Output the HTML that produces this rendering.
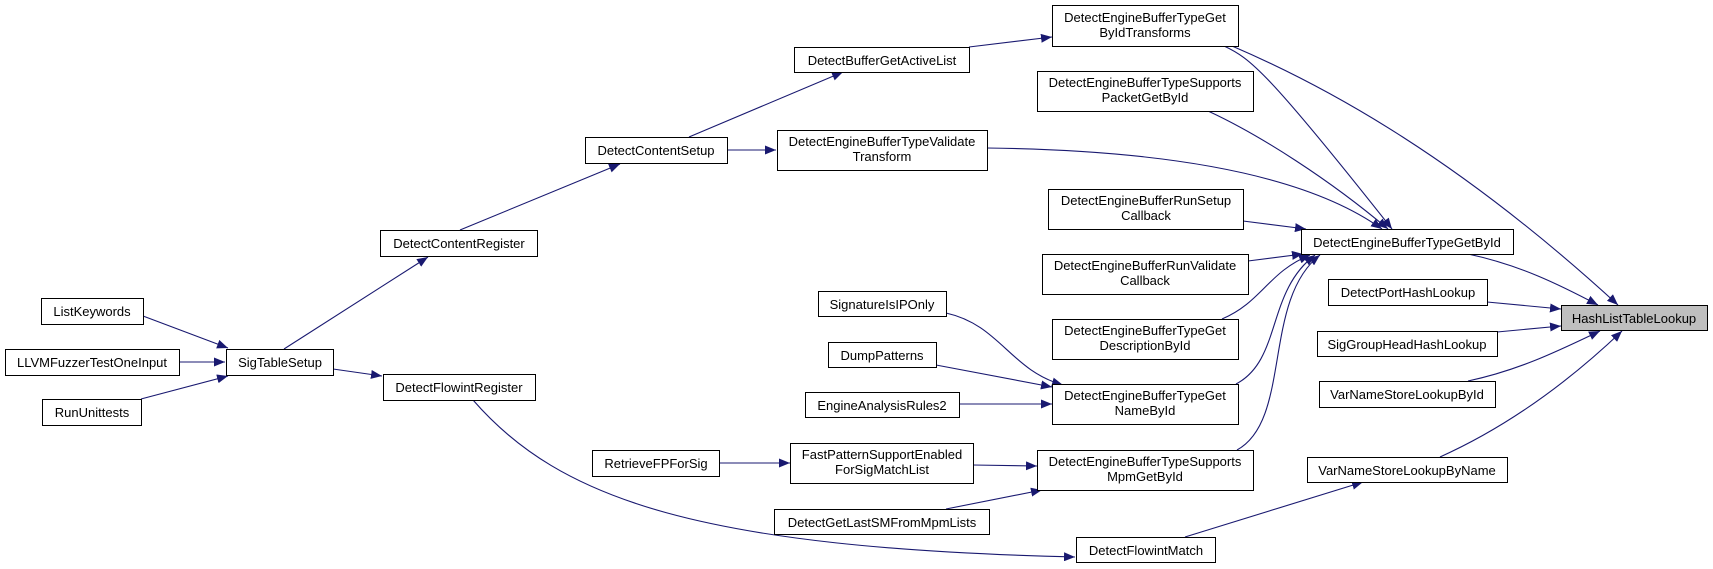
<!DOCTYPE html>
<html><head><meta charset="utf-8"><style>
html,body{margin:0;padding:0;background:#fff;}
svg{display:block;}
text{font-family:"Liberation Sans",Arial,sans-serif;font-size:13px;fill:#000;}
</style></head><body>
<svg width="1713" height="569" viewBox="0 0 1713 569" xmlns="http://www.w3.org/2000/svg">
<defs>
<marker id="a" markerUnits="userSpaceOnUse" markerWidth="12" markerHeight="9" refX="11" refY="4.5" orient="auto">
<path d="M0,0 L11,4.5 L0,9 z" fill="#191970"/>
</marker>
</defs>
<g fill="none" stroke="#191970" stroke-width="1.1" marker-end="url(#a)">
<path d="M143,316 L228,348"/>
<path d="M179,362 L225,362"/>
<path d="M141,399 L228,376"/>
<path d="M284,349 L428,257"/>
<path d="M333,369 L382,376"/>
<path d="M473,400 C560,500 700,548 1075,557"/>
<path d="M460,230 L620,164"/>
<path d="M689,137 L843,72"/>
<path d="M727,150 L776,150"/>
<path d="M969,47 L1052,37"/>
<path d="M1224,46 C1250,58 1268,72 1392,229"/>
<path d="M1232,46 C1330,88 1460,160 1618,305"/>
<path d="M1208,111 C1260,135 1330,180 1388,229"/>
<path d="M987,148 C1150,150 1300,170 1382,229"/>
<path d="M1243,221 L1306,229"/>
<path d="M1248,261 L1303,254"/>
<path d="M1222,319 C1262,302 1268,272 1310,255"/>
<path d="M1236,384 C1282,360 1266,292 1315,255"/>
<path d="M1237,450 C1292,420 1262,300 1320,255"/>
<path d="M946,313 C1000,325 1010,370 1063,385"/>
<path d="M936,365 L1052,387"/>
<path d="M959,404 L1052,404"/>
<path d="M973,465 L1037,466"/>
<path d="M946,509 L1042,490"/>
<path d="M719,463 L790,463"/>
<path d="M1468,254 C1520,265 1560,285 1598,305"/>
<path d="M1487,302 L1561,309"/>
<path d="M1497,332 L1561,326"/>
<path d="M1468,381 C1520,370 1560,350 1600,331"/>
<path d="M1440,457 C1500,430 1560,390 1622,331"/>
<path d="M1185,537 L1363,482"/>
</g>
<g stroke="#000" stroke-width="1" fill="#fff">
<rect x="41.5" y="298.5" width="102" height="26"/>
<rect x="5.5" y="349.5" width="174" height="26"/>
<rect x="42.5" y="399.5" width="99" height="26"/>
<rect x="226.5" y="349.5" width="107" height="26"/>
<rect x="383.5" y="374.5" width="152" height="26"/>
<rect x="380.5" y="230.5" width="157" height="26"/>
<rect x="585.5" y="137.5" width="142" height="26"/>
<rect x="794.5" y="47.5" width="175" height="25"/>
<rect x="777.5" y="130.5" width="210" height="40"/>
<rect x="1052.5" y="5.5" width="186" height="41"/>
<rect x="1037.5" y="71.5" width="216" height="40"/>
<rect x="1048.5" y="189.5" width="195" height="40"/>
<rect x="1042.5" y="254.5" width="206" height="40"/>
<rect x="818.5" y="291.5" width="128" height="25"/>
<rect x="828.5" y="342.5" width="108" height="25"/>
<rect x="805.5" y="392.5" width="154" height="25"/>
<rect x="592.5" y="450.5" width="127" height="26"/>
<rect x="790.5" y="443.5" width="183" height="40"/>
<rect x="774.5" y="509.5" width="215" height="25"/>
<rect x="1052.5" y="319.5" width="186" height="40"/>
<rect x="1052.5" y="384.5" width="186" height="40"/>
<rect x="1037.5" y="450.5" width="216" height="40"/>
<rect x="1076.5" y="537.5" width="139" height="25"/>
<rect x="1301.5" y="229.5" width="212" height="25"/>
<rect x="1328.5" y="279.5" width="159" height="26"/>
<rect x="1317.5" y="331.5" width="180" height="25"/>
<rect x="1319.5" y="381.5" width="176" height="26"/>
<rect x="1307.5" y="457.5" width="200" height="25"/>
<rect x="1561.5" y="305.5" width="146" height="25" fill="#bfbfbf"/>
</g>
<g text-anchor="middle">
<text x="92" y="316">ListKeywords</text>
<text x="92" y="367">LLVMFuzzerTestOneInput</text>
<text x="92" y="417">RunUnittests</text>
<text x="280" y="367">SigTableSetup</text>
<text x="459" y="392">DetectFlowintRegister</text>
<text x="459" y="248">DetectContentRegister</text>
<text x="656" y="155">DetectContentSetup</text>
<text x="882" y="65">DetectBufferGetActiveList</text>
<text x="882" y="146">DetectEngineBufferTypeValidate</text>
<text x="882" y="161">Transform</text>
<text x="1145" y="22">DetectEngineBufferTypeGet</text>
<text x="1145" y="37">ByIdTransforms</text>
<text x="1145" y="87">DetectEngineBufferTypeSupports</text>
<text x="1145" y="102">PacketGetById</text>
<text x="1146" y="205">DetectEngineBufferRunSetup</text>
<text x="1146" y="220">Callback</text>
<text x="1145" y="270">DetectEngineBufferRunValidate</text>
<text x="1145" y="285">Callback</text>
<text x="882" y="309">SignatureIsIPOnly</text>
<text x="882" y="360">DumpPatterns</text>
<text x="882" y="410">EngineAnalysisRules2</text>
<text x="656" y="468">RetrieveFPForSig</text>
<text x="882" y="459">FastPatternSupportEnabled</text>
<text x="882" y="474">ForSigMatchList</text>
<text x="882" y="527">DetectGetLastSMFromMpmLists</text>
<text x="1145" y="335">DetectEngineBufferTypeGet</text>
<text x="1145" y="350">DescriptionById</text>
<text x="1145" y="400">DetectEngineBufferTypeGet</text>
<text x="1145" y="415">NameById</text>
<text x="1145" y="466">DetectEngineBufferTypeSupports</text>
<text x="1145" y="481">MpmGetById</text>
<text x="1146" y="555">DetectFlowintMatch</text>
<text x="1407" y="247">DetectEngineBufferTypeGetById</text>
<text x="1408" y="297">DetectPortHashLookup</text>
<text x="1407" y="349">SigGroupHeadHashLookup</text>
<text x="1407" y="399">VarNameStoreLookupById</text>
<text x="1407" y="475">VarNameStoreLookupByName</text>
<text x="1634" y="323">HashListTableLookup</text>
</g>
</svg>
</body></html>
